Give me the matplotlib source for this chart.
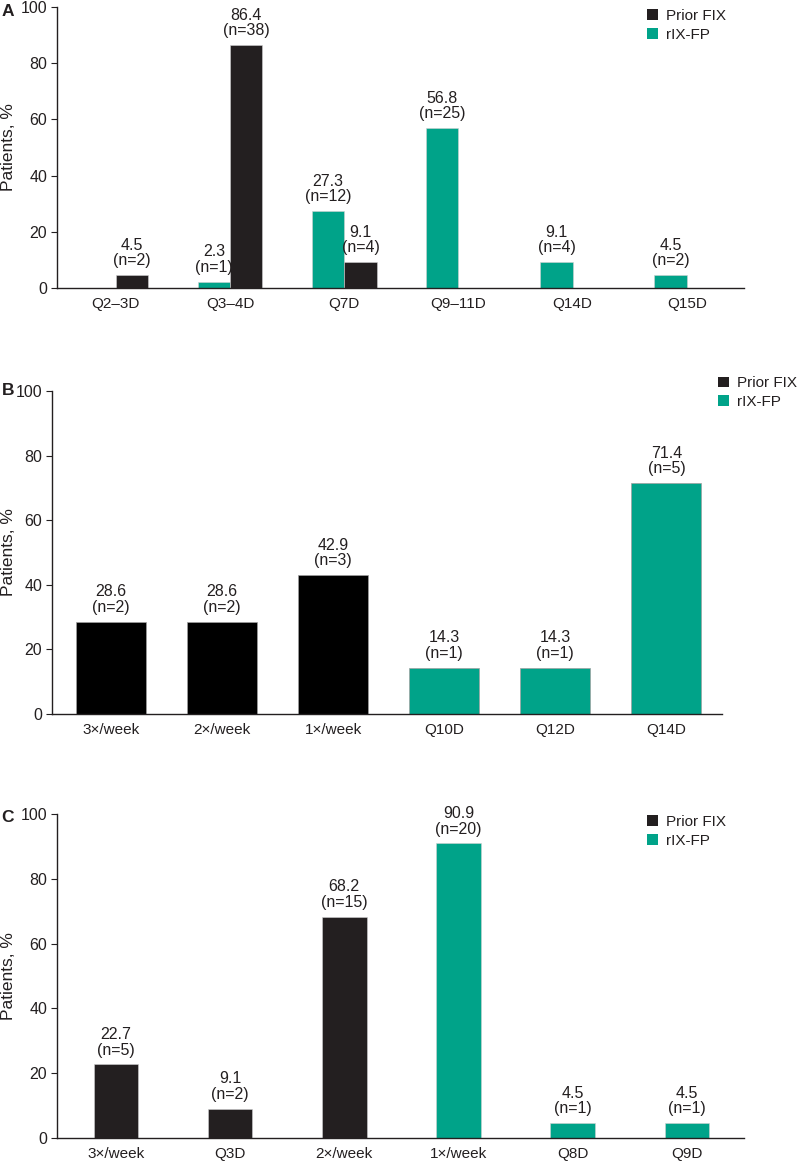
import matplotlib
matplotlib.use("Agg")
import matplotlib.pyplot as plt
from matplotlib.patches import Patch
import numpy as np

plt.rcParams['font.family'] = ['Liberation Sans', 'DejaVu Sans']
plt.rcParams['font.size'] = 11

# ---- Data ----
a_categories = ["Q2\u20133D", "Q3\u20134D", "Q7D", "Q9\u201311D", "Q14D", "Q15D"]
a_prior = [4.5, 86.4, 9.1, 0, 0, 0]
a_prior_n = [2, 38, 4, 0, 0, 0]
a_rix = [0, 2.3, 27.3, 56.8, 9.1, 4.5]
a_rix_n = [0, 1, 12, 25, 4, 2]

b_categories = ["3\u00d7/week", "2\u00d7/week", "1\u00d7/week", "Q10D", "Q12D", "Q14D"]
b_values = [28.6, 28.6, 42.9, 14.3, 14.3, 71.4]
b_n = [2, 2, 3, 1, 1, 5]
b_series = ["Prior FIX", "Prior FIX", "Prior FIX", "rIX-FP", "rIX-FP", "rIX-FP"]

c_categories = ["3\u00d7/week", "Q3D", "2\u00d7/week", "1\u00d7/week", "Q8D", "Q9D"]
c_values = [22.7, 9.1, 68.2, 90.9, 4.5, 4.5]
c_n = [5, 2, 15, 20, 1, 1]
c_series = ["Prior FIX", "Prior FIX", "Prior FIX", "rIX-FP", "rIX-FP", "rIX-FP"]

series_names = ["Prior FIX", "rIX-FP"]
yticks = [0, 20, 40, 60, 80, 100]

PRIOR = "#231F20"
PRIOR_B = "#000000"
TEAL = "#00A389"
TXT = "#231F20"

W, H = 797, 1163
fig = plt.figure(figsize=(W / 100, H / 100), dpi=100)


def box(l, r, t, b):
    return [l / W, 1 - b / H, (r - l) / W, (b - t) / H]


def style(ax, cats, xmin, ylab_px, left_px):
    ax.set_ylim(0, 100)
    ax.set_xlim(xmin, len(cats) - 0.5)
    ax.set_yticks(yticks)
    ax.set_xticks(np.arange(len(cats)))
    ax.set_xticklabels(cats)
    ax.tick_params(axis='x', length=0, pad=6.5, labelsize=11, colors=TXT)
    ax.tick_params(axis='y', length=4, width=0.8, direction='out', pad=3, labelsize=11.5,
                   colors=TXT)
    for s in ['top', 'right']:
        ax.spines[s].set_visible(False)
    for s in ['left', 'bottom']:
        ax.spines[s].set_linewidth(1.0)
        ax.spines[s].set_color(TXT)
    ax.set_ylabel("Patients, %", fontsize=12.5, color=TXT)
    width_px = ax.get_position().width * W
    ax.yaxis.set_label_coords((ylab_px - left_px) / width_px, 0.5)


def annotate(ax, x, v, n):
    ax.annotate(f"{v}\n(n={n})", xy=(x, v), xytext=(0, 5), textcoords='offset points',
                ha='center', va='bottom', fontsize=11.5, linespacing=1.05, color=TXT)


def legend(ax, prior_color, anchor):
    handles = [Patch(facecolor=prior_color, edgecolor='none'), Patch(facecolor=TEAL, edgecolor='none')]
    ax.legend(handles, series_names, loc='upper left', bbox_to_anchor=anchor, frameon=False,
              handlelength=0.7, handleheight=0.7, handletextpad=0.55, labelspacing=0.3,
              borderpad=0, borderaxespad=0, fontsize=11, labelcolor=TXT)


# ---- Panel A ----
axA = fig.add_axes(box(57, 744, 7, 288))
x = np.arange(len(a_categories))
bw = 0.284
axA.bar(x - bw / 2, a_rix, bw, color=TEAL, edgecolor='#d0d0d0', linewidth=0.4)
axA.bar(x + bw / 2, a_prior, bw, color=PRIOR, edgecolor='#d0d0d0', linewidth=0.4)
for i in range(len(x)):
    if a_rix[i] > 0:
        annotate(axA, x[i] - bw / 2, a_rix[i], a_rix_n[i])
    if a_prior[i] > 0:
        annotate(axA, x[i] + bw / 2, a_prior[i], a_prior_n[i])
style(axA, a_categories, -0.515, 16, 57)
legend(axA, PRIOR, (0.859, 0.993))

# ---- Panel B ----
axB = fig.add_axes(box(52, 722, 391, 714))
x = np.arange(len(b_categories))
colsB = [PRIOR_B if s == "Prior FIX" else TEAL for s in b_series]
axB.bar(x, b_values, 0.63, color=colsB, edgecolor='#a0a0a0', linewidth=0.5)
for i in range(len(x)):
    annotate(axB, x[i], b_values[i], b_n[i])
style(axB, b_categories, -0.53, 16, 52)
legend(axB, PRIOR, (0.994, 1.045))

# ---- Panel C ----
axC = fig.add_axes(box(57, 744, 814, 1138))
x = np.arange(len(c_categories))
colsC = [PRIOR if s == "Prior FIX" else TEAL for s in c_series]
axC.bar(x, c_values, 0.39, color=colsC, edgecolor='#d0d0d0', linewidth=0.4)
for i in range(len(x)):
    annotate(axC, x[i], c_values[i], c_n[i])
style(axC, c_categories, -0.515, 16, 57)
legend(axC, PRIOR, (0.859, 0.997))

# Panel letters
for lab, yc in [("A", 11.5), ("B", 390.5), ("C", 817.5)]:
    fig.text(1.5 / W, 1 - yc / H, lab, fontsize=12.5, fontweight='bold', ha='left', va='center',
             color=TXT)

fig.savefig("out.png", dpi=100)
